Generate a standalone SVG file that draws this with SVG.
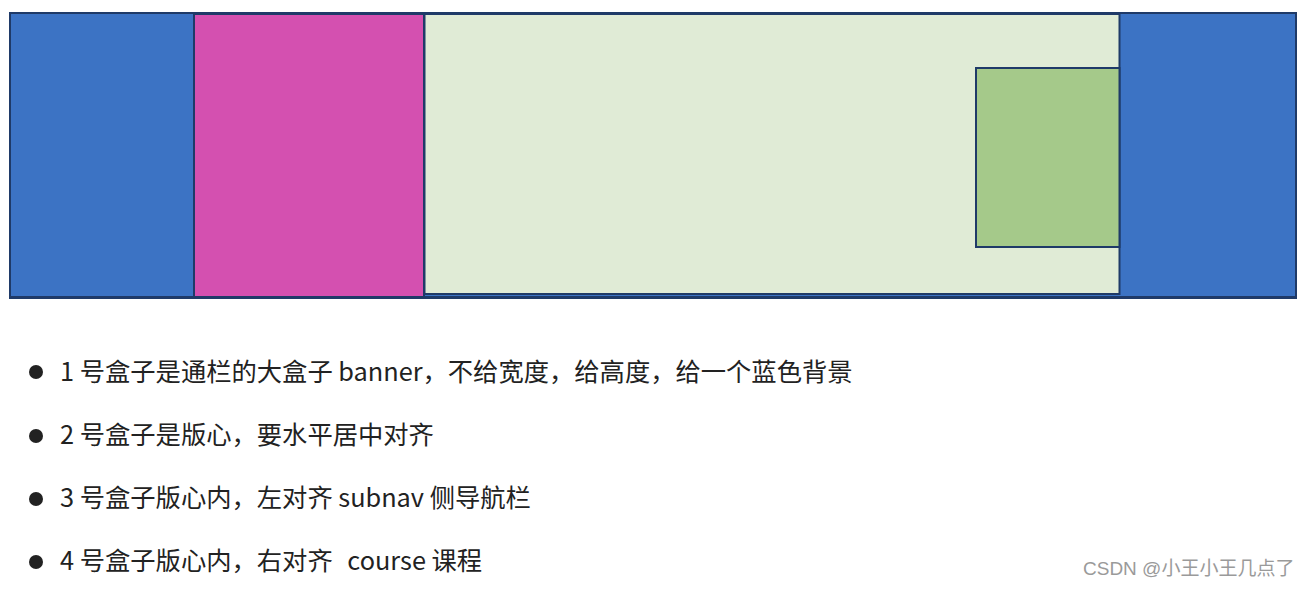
<svg xmlns="http://www.w3.org/2000/svg" width="1306" height="589" viewBox="0 0 1306 589">
<style>
.box{stroke:#1f3a68;stroke-width:2}
.t{font-family:"Microsoft YaHei","Noto Sans CJK SC",sans-serif;font-size:25.3px;fill:#222}
.b{fill:#222}
.wm{font-family:"Liberation Sans","Noto Sans CJK SC",sans-serif;font-size:19px;fill:#9a9a9a}
</style>
<rect width="1306" height="589" fill="#ffffff"/>
<g id="banner"><rect class="box" x="10" y="13" width="1286" height="285" fill="#3c73c4"/></g>
<g id="w"><rect class="box" x="194" y="14" width="230" height="283" fill="#d450b0"/></g>
<g id="main"><rect class="box" x="424.5" y="14" width="695" height="280" fill="#e0ebd6"/></g>
<g id="course"><rect class="box" x="976" y="68" width="143.5" height="179" fill="#a5c98a"/></g>
<line x1="10" y1="297.5" x2="1296" y2="297.5" stroke="#1f3a68" stroke-width="3"/>
<g id="list">
<circle class="b" cx="36" cy="372" r="7"/>
<text class="t" x="60" y="381">1 号盒子是通栏的大盒子 banner，不给宽度，给高度，给一个蓝色背景</text>
<circle class="b" cx="36" cy="436" r="7"/>
<text class="t" x="60" y="444">2 号盒子是版心，要水平居中对齐</text>
<circle class="b" cx="36" cy="499" r="7"/>
<text class="t" x="60" y="507">3 号盒子版心内，左对齐 subnav 侧导航栏</text>
<circle class="b" cx="36" cy="562" r="7"/>
<text class="t" x="60" y="570">4 号盒子版心内，右对齐 <tspan dx="9">course 课程</tspan></text>
</g>
<text class="wm" x="1083" y="575">CSDN @小王小王几点了</text>
</svg>
